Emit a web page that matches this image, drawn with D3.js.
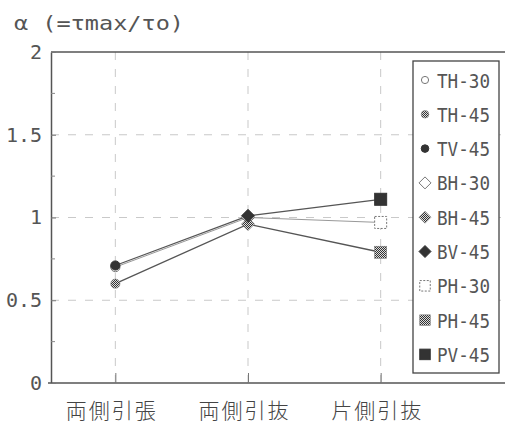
<!DOCTYPE html>
<html>
<head>
<meta charset="utf-8">
<script src="https://cdn.jsdelivr.net/npm/d3@7/dist/d3.min.js"></script>
<style>
  html, body { margin: 0; padding: 0; background: #fff; }
  svg { display: block; }
</style>
</head>
<body>
<script>
// Load-case categories on the x axis
const categories = ["両側引張", "両側引抜", "片側引抜"];

// Specimen series: name, load case, value of α
const seriesNames = ["TH-30", "TH-45", "TV-45", "BH-30", "BH-45", "BV-45", "PH-30", "PH-45", "PV-45"];
const seriesCategory = ["両側引張", "両側引張", "両側引張", "両側引抜", "両側引抜", "両側引抜", "片側引抜", "片側引抜", "片側引抜"];
const seriesValues = [0.70, 0.60, 0.71, 1.00, 0.96, 1.01, 0.97, 0.79, 1.11];

// Series joined by lines across the three load cases
const lineGroups = [
  ["TH-30", "BH-30", "PH-30"],
  ["TH-45", "BH-45", "PH-45"],
  ["TV-45", "BV-45", "PV-45"]
];

// Axis ticks
const yTicks = [0, 0.5, 1, 1.5, 2];
const yTickLabels = ["0", "0.5", "1", "1.5", "2"];
const yMinorTicks = [0.25, 0.75, 1.25, 1.75];
const yGrid = [0.5, 1, 1.5];
const titleText = "α (=τmax/τo)";

const W = 505, H = 427;
const plotLeft = 51, plotTop = 52, plotBottom = 383, plotRight = 505;
const ink = "#444";

const svg = d3.select("body").append("svg")
  .attr("width", W).attr("height", H)
  .attr("viewBox", `0 0 ${W} ${H}`);

const defs = svg.append("defs");
const pat = defs.append("pattern")
  .attr("id", "stipple").attr("patternUnits", "userSpaceOnUse")
  .attr("width", 2).attr("height", 2);
pat.append("rect").attr("width", 2).attr("height", 2).attr("fill", "#ddd");
pat.append("rect").attr("x", 0).attr("y", 0).attr("width", 1).attr("height", 1).attr("fill", "#333");
pat.append("rect").attr("x", 1).attr("y", 1).attr("width", 1).attr("height", 1).attr("fill", "#333");

const x = d3.scalePoint().domain(categories).range([49, 447]).padding(0.5);
const y = d3.scaleLinear().domain([0, 2]).range([plotBottom, plotTop]);

// Grid lines
const grid = svg.append("g").attr("stroke", "#bbb").attr("stroke-width", 0.8)
  .attr("stroke-dasharray", "8,9");
grid.selectAll("line.h").data(yGrid).join("line").attr("class", "h")
  .attr("x1", plotLeft).attr("x2", plotRight)
  .attr("y1", d => y(d)).attr("y2", d => y(d));
grid.selectAll("line.v").data(categories).join("line").attr("class", "v")
  .attr("x1", d => x(d)).attr("x2", d => x(d))
  .attr("y1", plotTop).attr("y2", plotBottom);

// Frame: top and bottom rules
svg.append("line").attr("x1", plotLeft).attr("x2", plotRight).attr("y1", plotTop).attr("y2", plotTop)
  .attr("stroke", "#555").attr("stroke-width", 1.5);
svg.append("line").attr("x1", 48).attr("x2", plotRight).attr("y1", plotBottom).attr("y2", plotBottom)
  .attr("stroke", "#555").attr("stroke-width", 1.5);

// Y axis
const yAxis = svg.append("g").attr("transform", `translate(${plotLeft},0)`)
  .call(d3.axisLeft(y).tickValues(yTicks).tickFormat((d, i) => yTickLabels[i])
    .tickSize(-5).tickSizeOuter(0).tickPadding(9));
yAxis.select(".domain").attr("stroke", "#555").attr("stroke-width", 1.5);
yAxis.selectAll(".tick line").attr("stroke", "#777");
yAxis.selectAll(".tick text")
  .attr("font-family", "'DejaVu Sans Mono', monospace")
  .attr("font-size", 20).attr("fill", "#555");
svg.append("g").selectAll("line").data(yMinorTicks).join("line")
  .attr("x1", plotLeft).attr("x2", plotLeft + 4)
  .attr("y1", d => y(d)).attr("y2", d => y(d))
  .attr("stroke", "#888").attr("stroke-width", 1);

// X axis (ticks point inward, labels below)
const xAxis = svg.append("g").attr("transform", `translate(0,${plotBottom})`)
  .call(d3.axisBottom(x).tickSize(-10).tickSizeOuter(0).tickPadding(26));
xAxis.select(".domain").remove();
xAxis.selectAll(".tick line").attr("stroke", "#777");
xAxis.selectAll(".tick text")
  .attr("font-family", "'Noto Sans CJK JP', sans-serif")
  .attr("font-size", 21).attr("font-weight", 300).attr("fill", "#444")
  .attr("letter-spacing", 2).attr("dx", -4).attr("dy", "0.45em");

// Title
svg.append("text").attr("x", 14).attr("y", 30)
  .attr("font-family", "'DejaVu Sans Mono', monospace")
  .attr("font-size", 20).attr("fill", "#555")
  .attr("textLength", 170).attr("lengthAdjust", "spacingAndGlyphs")
  .text(titleText);

// Series records
const series = seriesNames.map((name, i) => ({
  name, cat: seriesCategory[i], value: seriesValues[i]
}));
const byName = new Map(series.map(d => [d.name, d]));

function shapeOf(name) {
  return name[0] === "T" ? "circle" : name[0] === "B" ? "diamond" : "square";
}
function styleOf(name) {
  if (name.endsWith("H-30")) return { fill: "#fff", stroke: "#777", dash: name[0] === "P" ? "2,1.5" : null, sw: 1 };
  if (name.endsWith("H-45")) return { fill: "url(#stipple)", stroke: "#777", dash: null, sw: 0.6 };
  return { fill: "#333", stroke: "#333", dash: null, sw: 1 };
}
function drawMarker(g, name, cx, cy, big) {
  const shape = shapeOf(name), st = styleOf(name);
  let el;
  if (shape === "circle") {
    const r = big ? 4.6 : (name.endsWith("H-30") ? 3.6 : 3.8);
    el = g.append("circle").attr("cx", cx).attr("cy", cy).attr("r", r);
  } else if (shape === "diamond") {
    const s = big ? 6.5 : 6;
    el = g.append("path").attr("d", `M${cx},${cy - s}L${cx + s},${cy}L${cx},${cy + s}L${cx - s},${cy}Z`);
  } else {
    const s = big ? 12 : 10.5;
    el = g.append("rect").attr("x", cx - s / 2).attr("y", cy - s / 2).attr("width", s).attr("height", s);
  }
  el.attr("fill", st.fill).attr("stroke", st.stroke).attr("stroke-width", st.sw);
  if (st.dash) el.attr("stroke-dasharray", st.dash);
}

// Lines
const line = d3.line().x(d => x(d.cat)).y(d => y(d.value));
svg.append("g").selectAll("path").data(lineGroups).join("path")
  .attr("d", g => line(g.map(n => byName.get(n))))
  .attr("fill", "none")
  .attr("stroke", (g, i) => i === 0 ? "#999" : "#555")
  .attr("stroke-width", (g, i) => i === 0 ? 1 : 1.3);

// Markers (open series first so solid ones sit on top)
const mk = svg.append("g");
const order = ["TH-30", "BH-30", "PH-30", "TH-45", "BH-45", "PH-45", "TV-45", "BV-45", "PV-45"];
order.forEach(n => {
  const d = byName.get(n);
  drawMarker(mk, n, x(d.cat), y(d.value), true);
});

// Legend
const lg = svg.append("g");
lg.append("rect").attr("x", 413).attr("y", 61).attr("width", 86).attr("height", 312)
  .attr("fill", "#fff").attr("stroke", ink).attr("stroke-width", 1.3);
seriesNames.forEach((n, i) => {
  const cy = 80 + i * 34.3;
  drawMarker(lg, n, 425, cy, false);
  lg.append("text").attr("x", 437).attr("y", cy + 7.5)
    .attr("font-family", "'DejaVu Sans Mono', monospace")
    .attr("font-size", 20).attr("fill", "#555")
    .attr("textLength", 53).attr("lengthAdjust", "spacingAndGlyphs")
    .text(n);
});
</script>
</body>
</html>
